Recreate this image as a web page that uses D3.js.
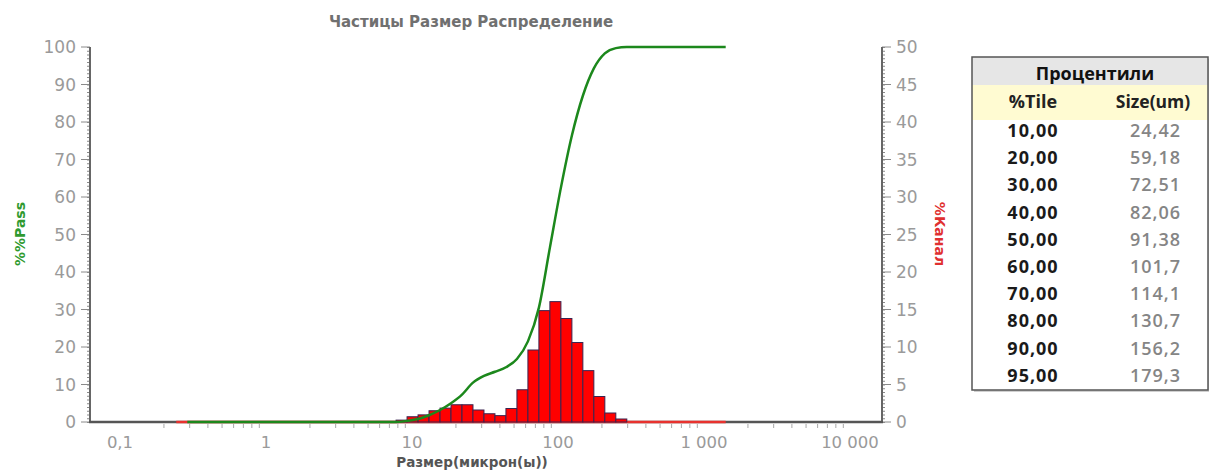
<!DOCTYPE html>
<html>
<head>
<meta charset="utf-8">
<script src="https://cdn.jsdelivr.net/npm/d3@7"></script>
<style>
  body { margin: 0; background: #fff; }
</style>
</head>
<body>
<svg id="chart"></svg>
<script>
// histogram channels (um), quarter-octave bins
var channelLow  = [7.78, 9.25, 11.00, 13.08, 15.56, 18.50, 22.00, 26.16, 31.11, 37.00, 44.00,
                   52.33, 62.23, 74.00, 88.00, 104.7, 124.5, 148.0, 176.0, 209.3, 248.9]
var channelHigh = [9.25, 11.00, 13.08, 15.56, 18.50, 22.00, 26.16, 31.11, 37.00, 44.00, 52.33,
                   62.23, 74.00, 88.00, 104.7, 124.5, 148.0, 176.0, 209.3, 248.9, 296.0]
var channelPct  = [0.25, 0.7, 0.95, 1.5, 1.85, 2.3, 2.3, 1.6, 1.1, 0.85, 1.8,
                   4.3, 9.6, 14.85, 16.05, 13.8, 10.6, 6.85, 3.4, 1.2, 0.4]
var measureRange = [0.243, 1408]

// cumulative %pass curve
var passSize = [0.289, 7.78, 9.25, 11.0, 13.08, 15.56, 18.5, 22.0, 26.16, 31.11, 37.0, 44.0,
                52.33, 62.23, 74.0, 88.0, 104.7, 124.5, 148.0, 176.0, 209.3, 248.9, 296.0, 1408]
var passPct  = [0, 0, 0.3, 0.8, 1.8, 3.2, 5.0, 7.3, 10.5, 12.3, 13.4, 14.6,
                16.8, 21.5, 30.5, 46.5, 62.5, 76.4, 87.0, 94.3, 98.3, 99.7, 100, 100]

// axis ticks
var xTicks = [0.1, 1, 10, 100, 1000, 10000]
var leftTicks = [0, 10, 20, 30, 40, 50, 60, 70, 80, 90, 100]
var rightTicks = [0, 5, 10, 15, 20, 25, 30, 35, 40, 45, 50]

// percentile table
var tilePct  = [10, 20, 30, 40, 50, 60, 70, 80, 90, 95]
var tileSize = [24.42, 59.18, 72.51, 82.06, 91.38, 101.7, 114.1, 130.7, 156.2, 179.3]

var ru = d3.formatLocale({decimal: ",", thousands: "\u00a0", grouping: [3], currency: ["", ""]})
var fmtAxis = (d) => d < 1 ? ru.format(".1f")(d) : ru.format(",d")(d)

function draw() {
    var W = 1209, H = 470
    var svg = d3.select("#chart").attr("width", W).attr("height", H)
    svg.append("rect").attr("width", W).attr("height", H).attr("fill", "#fff")

    var plot = {left: 90, right: 882, top: 47, bottom: 422}
    var x = d3.scaleLog().domain([0.1, 10000]).range([120, 850])
    var yL = d3.scaleLinear().domain([0, 100]).range([plot.bottom, plot.top])
    var yR = d3.scaleLinear().domain([0, 50]).range([plot.bottom, plot.top])

    var axisFont = "DejaVu Sans, Verdana, sans-serif"
    var grey = "#9a9a9a"

    // title
    svg.append("text")
       .attr("x", 471).attr("y", 27)
       .attr("text-anchor", "middle")
       .attr("font-family", axisFont)
       .attr("font-weight", "bold")
       .attr("font-size", 15)
       .attr("fill", "#707070")
       .text("Частицы Размер Распределение")

    // x minor ticks
    var minor = []
    for (var k = -1; k <= 3; k++) {
        for (var m = 2; m <= 9; m++) minor.push(m * Math.pow(10, k))
    }
    svg.append("g").selectAll("line")
       .data(minor)
       .join("line")
       .attr("x1", (d) => x(d)).attr("x2", (d) => x(d))
       .attr("y1", plot.bottom + 2).attr("y2", plot.bottom + 6)
       .attr("stroke", "#a8a8a8").attr("stroke-width", 1)

    svg.append("g").selectAll("text")
       .data(xTicks)
       .join("text")
       .attr("x", (d) => x(d)).attr("y", 448)
       .attr("text-anchor", "middle")
       .attr("font-family", axisFont).attr("font-size", 16.5)
       .attr("fill", grey)
       .text(fmtAxis)

    // left axis
    var gl = svg.append("g")
    gl.selectAll(".minor")
      .data(d3.range(0, 101, 1))
      .join("line")
      .attr("x1", plot.left - 3).attr("x2", plot.left + 1)
      .attr("y1", (d) => yL(d) + 0.5).attr("y2", (d) => yL(d) + 0.5)
      .attr("stroke", "#8a8a8a").attr("stroke-width", 1)
    gl.selectAll(".major")
      .data(leftTicks)
      .join("line")
      .attr("x1", plot.left - 9).attr("x2", plot.left)
      .attr("y1", (d) => yL(d)).attr("y2", (d) => yL(d))
      .attr("stroke", "#8a8a8a").attr("stroke-width", 1)
    gl.selectAll("text")
      .data(leftTicks)
      .join("text")
      .attr("x", 76).attr("y", (d) => yL(d) + 6)
      .attr("text-anchor", "end")
      .attr("font-family", axisFont).attr("font-size", 17)
      .attr("fill", grey)
      .text((d) => d)

    // right axis
    var gr = svg.append("g")
    gr.selectAll(".minor")
      .data(d3.range(0, 50.01, 0.5))
      .join("line")
      .attr("x1", plot.right - 1).attr("x2", plot.right + 3)
      .attr("y1", (d) => yR(d) + 0.5).attr("y2", (d) => yR(d) + 0.5)
      .attr("stroke", "#8a8a8a").attr("stroke-width", 1)
    gr.selectAll(".major")
      .data(rightTicks)
      .join("line")
      .attr("x1", plot.right).attr("x2", plot.right + 9)
      .attr("y1", (d) => yR(d)).attr("y2", (d) => yR(d))
      .attr("stroke", "#8a8a8a").attr("stroke-width", 1)
    gr.selectAll("text")
      .data(rightTicks)
      .join("text")
      .attr("x", 896).attr("y", (d) => yR(d) + 6)
      .attr("text-anchor", "start")
      .attr("font-family", axisFont).attr("font-size", 17)
      .attr("fill", grey)
      .text((d) => d)

    // frame lines
    svg.append("line")
       .attr("x1", plot.left).attr("x2", plot.left)
       .attr("y1", plot.top).attr("y2", plot.bottom)
       .attr("stroke", "#666").attr("stroke-width", 2)
    svg.append("line")
       .attr("x1", plot.right).attr("x2", plot.right)
       .attr("y1", plot.top).attr("y2", plot.bottom)
       .attr("stroke", "#666").attr("stroke-width", 2)
    svg.append("line")
       .attr("x1", plot.left - 1).attr("x2", plot.right + 1)
       .attr("y1", plot.bottom).attr("y2", plot.bottom)
       .attr("stroke", "#555").attr("stroke-width", 2.5)

    // red baseline for the whole measuring range
    svg.append("line")
       .attr("x1", x(measureRange[0])).attr("x2", x(measureRange[1]))
       .attr("y1", yR(0)).attr("y2", yR(0))
       .attr("stroke", "#e8322e").attr("stroke-width", 2.5)

    // histogram
    svg.append("g").selectAll("rect")
       .data(channelPct)
       .join("rect")
       .attr("x", (d, i) => x(channelLow[i]))
       .attr("width", (d, i) => x(channelHigh[i]) - x(channelLow[i]))
       .attr("y", (d) => yR(d))
       .attr("height", (d) => yR(0) - yR(d))
       .attr("fill", "#ff0000")
       .attr("stroke", "#3a2450")
       .attr("stroke-width", 1)

    // cumulative pass curve
    var pts = passSize.map((s, i) => [x(s), yL(passPct[i])])
    svg.append("path")
       .attr("d", d3.line().curve(d3.curveMonotoneX)(pts))
       .attr("fill", "none")
       .attr("stroke", "#1c881c")
       .attr("stroke-width", 2.5)

    // axis titles
    svg.append("text")
       .attr("x", 472).attr("y", 467)
       .attr("text-anchor", "middle")
       .attr("font-family", axisFont).attr("font-weight", "bold").attr("font-size", 13.5)
       .attr("fill", "#555")
       .text("Размер(микрон(ы))")
    svg.append("text")
       .attr("transform", "translate(25,234) rotate(-90)")
       .attr("text-anchor", "middle")
       .attr("font-family", axisFont).attr("font-weight", "bold").attr("font-size", 14)
       .attr("fill", "#2f9a2f")
       .text("%%Pass")
    svg.append("text")
       .attr("transform", "translate(935,234) rotate(90)")
       .attr("text-anchor", "middle")
       .attr("font-family", axisFont).attr("font-weight", "bold").attr("font-size", 14)
       .attr("fill", "#e03030")
       .text("%Канал")

    // percentile table
    var tb = {x: 972, y: 57, w: 236, h: 333}
    var tFont = "Open Sans, sans-serif"
    var g = svg.append("g")
    g.append("rect").attr("x", tb.x + 2).attr("y", tb.y + 2).attr("width", tb.w).attr("height", tb.h)
     .attr("fill", "#d0d0d0")
    g.append("rect").attr("x", tb.x).attr("y", tb.y).attr("width", tb.w).attr("height", tb.h)
     .attr("fill", "#fff")
    g.append("rect").attr("x", tb.x).attr("y", tb.y).attr("width", tb.w).attr("height", 28)
     .attr("fill", "#e6e6e6")
    g.append("rect").attr("x", tb.x).attr("y", tb.y + 28).attr("width", tb.w).attr("height", 35)
     .attr("fill", "#fffbd2")
    g.append("rect").attr("x", tb.x).attr("y", tb.y).attr("width", tb.w).attr("height", tb.h)
     .attr("fill", "none").attr("stroke", "#555").attr("stroke-width", 1.5)

    g.append("text").attr("x", 1095).attr("y", 80)
     .attr("text-anchor", "middle").attr("font-family", tFont)
     .attr("font-weight", "bold").attr("font-size", 18).attr("fill", "#111")
     .text("Процентили")
    g.append("text").attr("x", 1033).attr("y", 108)
     .attr("text-anchor", "middle").attr("font-family", tFont)
     .attr("font-weight", "bold").attr("font-size", 18).attr("fill", "#222")
     .text("%Tile")
    g.append("text").attr("x", 1153).attr("y", 108)
     .attr("text-anchor", "middle").attr("font-family", tFont)
     .attr("font-weight", "bold").attr("font-size", 17.5).attr("fill", "#222")
     .text("Size(um)")

    var rowY = (i) => 137 + i * 27.2
    g.selectAll(".pct")
     .data(tilePct)
     .join("text")
     .attr("x", 1033).attr("y", (d, i) => rowY(i))
     .attr("text-anchor", "middle").attr("font-family", tFont)
     .attr("font-weight", "bold").attr("font-size", 18).attr("letter-spacing", 1)
     .attr("fill", "#1a1a1a")
     .text((d) => ru.format(".2f")(d))
    g.selectAll(".size")
     .data(tileSize)
     .join("text")
     .attr("x", 1181).attr("y", (d, i) => rowY(i))
     .attr("text-anchor", "end").attr("font-family", tFont)
     .attr("font-weight", 600).attr("font-size", 18).attr("letter-spacing", 1)
     .attr("fill", "#858585")
     .text((d) => ru.format(".4r")(d))
}

draw()
</script>
</body>
</html>
